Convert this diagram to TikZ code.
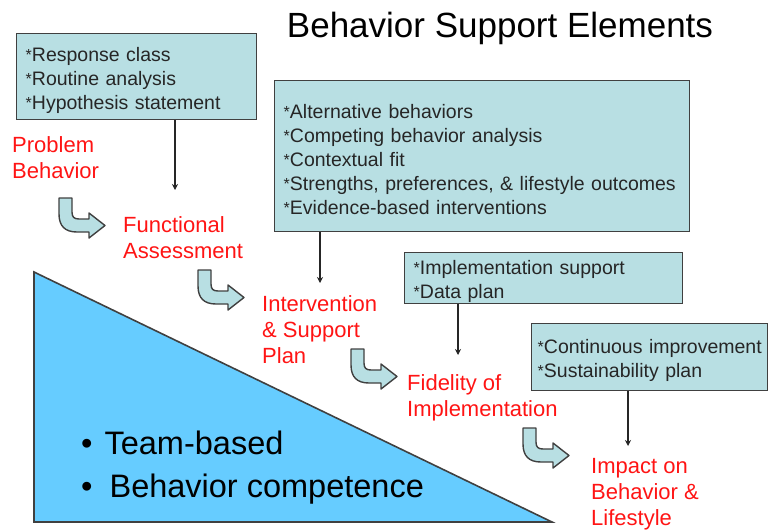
\documentclass[tikz,border=0pt]{standalone}
\usepackage{fontspec}
\setmainfont{Liberation Sans}
\usetikzlibrary{arrows.meta}

\definecolor{boxfill}{RGB}{184,223,227}
\definecolor{edgegray}{RGB}{64,64,64}
\definecolor{teamblue}{RGB}{102,204,255}
\definecolor{stepred}{RGB}{255,20,20}

\newcommand{\mk}{{\fontsize{16}{16}\selectfont\raisebox{1pt}{*}}}

\tikzset{
  infobox/.style={draw=edgegray, fill=boxfill, line width=1.4pt, anchor=north west,
    align=left, inner xsep=9pt, inner ysep=0pt, text height=21pt, text=black!85,
    font=\fontsize{19.5}{24}\selectfont},
  steptext/.style={anchor=base west, align=left, inner sep=0pt, text=stepred,
    font=\fontsize{22}{26}\selectfont},
  link/.style={draw=black!85, line width=1.4pt, -{Stealth[length=6pt,width=6pt]}},
  turnshape/.style={draw=edgegray, fill=boxfill, line width=1.4pt, line join=round},
  turn/.pic={
    \path[turnshape] (0,0) -- (0,16) .. controls (0,28) and (6,34) .. (18,34)
      -- (30,34) -- (30,40) -- (46,27.5) -- (30,15) -- (30,21) -- (20,21)
      .. controls (15,21) and (13,19) .. (13,14) -- (13,0) -- cycle;
  }
}

\begin{document}
\begin{tikzpicture}[x=1pt, y=-1pt]
    \useasboundingbox (0,0) rectangle (768,531);

    % Title
    \node[anchor=base, font=\fontsize{35}{40}\selectfont] (title) at (500,37) {Behavior Support Elements};

    % Team triangle
    \draw[draw=edgegray, fill=teamblue, line width=1.6pt] (34,272) -- (34,522) -- (552,522) -- cycle;
    \node[anchor=base west, align=left, inner sep=0pt, font=\fontsize{32.5}{43}\selectfont] (team) at (81,497)
        {\textbullet\hspace{12pt}Team-based\\\textbullet\hspace{17pt}Behavior competence};

    % Element boxes
    \node[infobox, text width=222pt, minimum width=240, minimum height=86] (box1) at (16,33)
        {\mk Response class\\\mk Routine analysis\\\mk Hypothesis statement};
    \node[infobox, text width=397pt, minimum width=415, minimum height=151] (box2) at (274,80)
        {\mk Alternative behaviors\\\mk Competing behavior analysis\\\mk Contextual fit\\\mk Strengths, preferences, \& lifestyle outcomes\\\mk Evidence-based interventions};
    \node[infobox, text width=260pt, minimum width=278, minimum height=51] (box3) at (404,252)
        {\mk Implementation support\\\mk Data plan};
    \node[infobox, inner xsep=6pt, text width=224pt, minimum width=236, minimum height=67] (box4) at (531,323)
        {\mbox{\mk Continuous improvement}\\\mk Sustainability plan};

    % Steps
    \node[steptext] (problem) at (12,178) {Problem\\Behavior};
    \node[steptext] (assess) at (123,258) {Functional\\Assessment};
    \node[steptext] (plan) at (262,363) {Intervention\\\& Support\\Plan};
    \node[steptext] (fidelity) at (407,416) {Fidelity of\\Implementation};
    \node[steptext] (impact) at (591,525) {Impact on\\Behavior \&\\Lifestyle};

    % Turn arrows
    \pic at (59,198) {turn};
    \pic at (198,270) {turn};
    \pic at (351,349) {turn};
    \pic at (523,428) {turn};

    % Arrows
    \coordinate (a1) at (175,190);
    \coordinate (a2) at (320,283);
    \coordinate (a3) at (458,355);
    \coordinate (a4) at (628,446);
    \draw[link] (box1.south -| a1) -- (a1);
    \draw[link] (box2.south -| a2) -- (a2);
    \draw[link] (box3.south -| a3) -- (a3);
    \draw[link] (box4.south -| a4) -- (a4);
\end{tikzpicture}
\end{document}
